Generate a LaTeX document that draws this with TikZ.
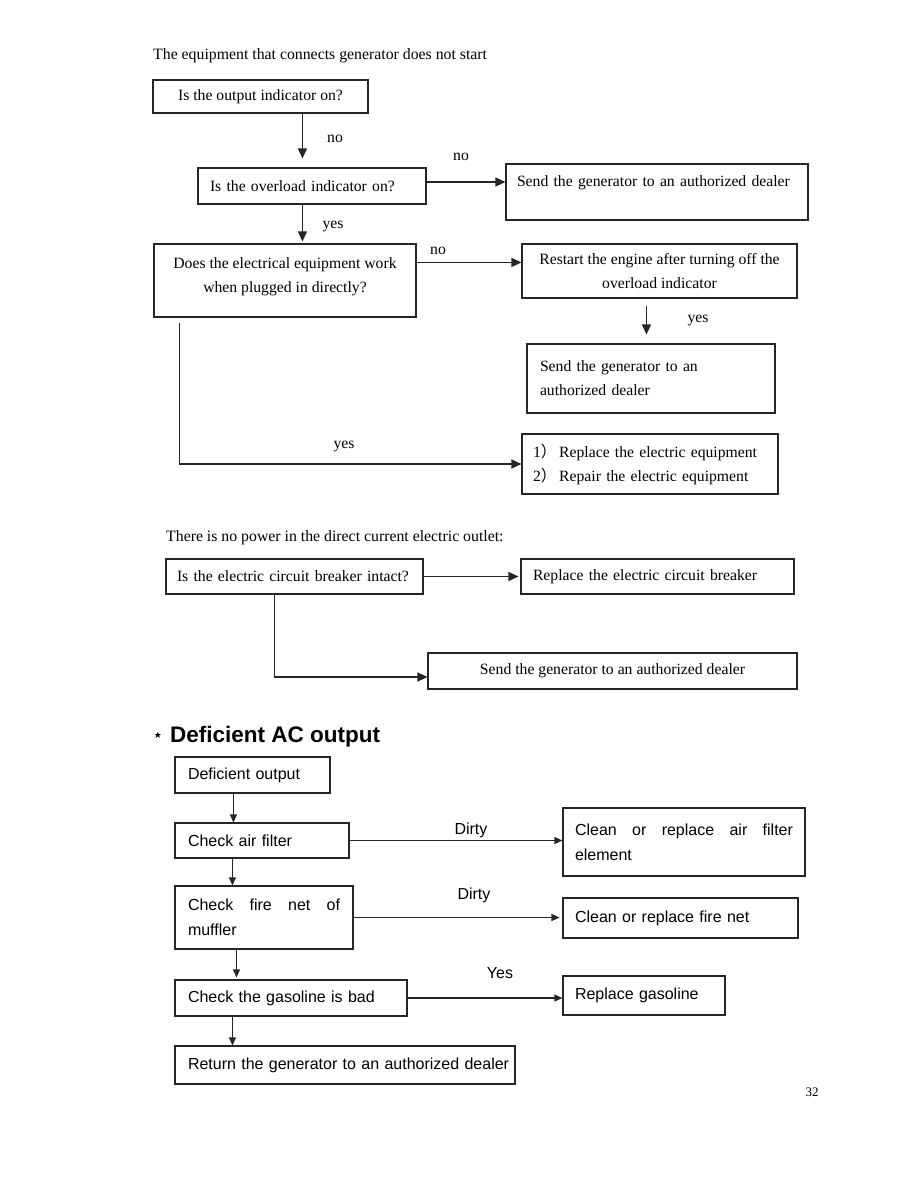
\documentclass[tikz,border=0pt]{standalone}
\usepackage{fontspec}
\setmainfont{Liberation Serif}
\setsansfont{Liberation Sans}
\newfontfamily\cjk{Noto Sans CJK SC}
\newfontfamily\djv{DejaVu Sans}
\usetikzlibrary{arrows.meta,calc}
\hyphenpenalty=10000
\exhyphenpenalty=10000
\begin{document}
\begin{tikzpicture}[x=1pt,y=-1pt,
  lc/.style={draw=black!85, line width=1.1pt},
  bx/.style={lc, inner ysep=0pt, font=\fontsize{15.7}{24}\selectfont},
  sbx/.style={lc, inner ysep=0pt, font=\sffamily\fontsize{16}{25}\selectfont},
  arr/.style={lc, -{Triangle[length=10pt,width=9pt]}},
  sarr/.style={lc, -{Triangle[length=8pt,width=7pt]}},
  lbl/.style={inner sep=0pt, font=\fontsize{15.7}{18}\selectfont},
  slbl/.style={inner sep=0pt, font=\sffamily\fontsize{16}{18}\selectfont},
  ttl/.style={inner sep=0pt, anchor=base west, font=\fontsize{15.8}{18}\selectfont}
]
\useasboundingbox[fill=white] (0,0) rectangle (918,1188);

% ---------- Section 1 ----------
\node[ttl] (t1) at (153,60) {The equipment that connects generator does not start};

\node[bx, minimum width=215pt, minimum height=33pt] (A) at (260.5,96.5) {Is the output indicator on?};
\node[bx, inner xsep=12pt, text width=204pt, minimum height=36pt, align=left] (B) at (312,186) {\mbox{Is the overload indicator on?}};
\node[bx, inner xsep=11pt, text width=280pt, text height=22pt, text depth=34pt, align=left] (C) at (657,192) {\mbox{Send the generator to an authorized dealer}};
\node[bx, minimum width=262pt, text height=48pt, text depth=25pt, align=center] (D) at (285,280.5) {Does the electrical equipment work\\when plugged in directly?};
\node[bx, minimum width=275pt, minimum height=54pt, align=center] (E) at (659.5,271) {Restart the engine after turning off the\\overload indicator};
\node[bx, inner xsep=13pt, text width=222pt, minimum height=69pt, align=left] (F) at (651,378.5) {Send the generator to an\\authorized dealer};
\node[bx, inner xsep=11pt, text width=234pt, minimum height=60pt, align=left] (G) at (650,464) {\mbox{1{\cjk ）}\,Replace the electric equipment}\\\mbox{2{\cjk ）}\,Repair the electric equipment}};

\coordinate (ab) at ($(A.south west)+(150,0)$);
\draw[arr, shorten >=9pt] (ab) -- (ab |- B.north);
\node[lbl] (l1) at (335,139) {no};

\coordinate (bc) at ($(B.east)+(0,-4)$);
\draw[arr] (bc) -- (bc -| C.west);
\node[lbl] (l2) at (461,157) {no};

\coordinate (bd) at ($(B.south west)+(105,0)$);
\draw[arr, shorten >=2pt] (bd) -- (bd |- D.north);
\node[lbl] (l3) at (333,226) {yes};

\coordinate (de) at ($(D.north east)+(0,19)$);
\draw[arr] (de) -- (de -| E.west);
\node[lbl] (l4) at (438,251) {no};

\coordinate (ef) at ($(E.south west)+(125,7)$);
\draw[arr, shorten >=9pt] (ef) -- (ef |- F.north);
\node[lbl] (l5) at (698,320) {yes};

\coordinate (dg) at ($(D.south west)+(26,5)$);
\draw[arr] (dg) |- (G.west);
\node[lbl] (l6) at (344,446) {yes};

% ---------- Section 2 ----------
\node[ttl] (t2) at (166,541) {There is no power in the direct current electric outlet:};
\node[bx, inner xsep=11pt, text width=235pt, minimum height=35pt, align=left] (H) at (294.5,576.5) {\mbox{Is the electric circuit breaker intact?}};
\node[bx, inner xsep=12pt, text width=249pt, minimum height=35pt, align=left] (I) at (657.5,576.5) {\mbox{Replace the electric circuit breaker}};
\node[bx, minimum width=369pt, minimum height=36pt] (J) at (612.5,671) {Send the generator to an authorized dealer};

\draw[arr, shorten >=2pt] (H.east) -- (H.east -| I.west);
\coordinate (hj) at ($(H.south west)+(109,0)$);
\coordinate (jw) at ($(J.west)+(0,6)$);
\draw[arr] (hj) |- (jw);

% ---------- Section 3 ----------
\node[inner sep=0pt, font=\djv\fontsize{9}{10}\selectfont] (star) at (158,735) {★};
\node[inner sep=0pt, anchor=base west, font=\sffamily\bfseries\fontsize{22.5}{26}\selectfont] (t3) at (170,742) {Deficient AC output};

\node[sbx, inner xsep=13pt, text width=129pt, minimum height=36pt, align=left] (K) at (252.5,775) {\mbox{Deficient output}};
\node[sbx, inner xsep=13pt, text width=148pt, minimum height=35pt, align=left] (L) at (262,840.5) {\mbox{Check air filter}};
\node[sbx, inner xsep=12pt, text width=218pt, minimum height=68pt, align=justify] (M) at (684,842) {Clean or replace air filter element};
\node[sbx, inner xsep=13pt, text width=152pt, minimum height=63pt, align=justify] (N) at (264,917.5) {Check fire net of muffler};
\node[sbx, inner xsep=12pt, text width=211pt, minimum height=40pt, align=left] (O) at (680.5,918) {\mbox{Clean or replace fire net}};
\node[sbx, inner xsep=13pt, text width=206pt, minimum height=36pt, align=left] (P) at (291,998) {\makebox[204pt][s]{Check the gasoline is bad}};
\node[sbx, inner xsep=12pt, text width=138pt, minimum height=39pt, align=left] (Q) at (644,995.5) {\mbox{Replace gasoline}};
\node[sbx, inner xsep=13pt, text width=314pt, minimum height=38pt, align=left] (R) at (345,1065) {\mbox{Return the generator to an authorized dealer}};

\coordinate (kl) at ($(K.south west)+(59,0)$);
\draw[sarr] (kl) -- (kl |- L.north);
\draw[sarr] (L.east) -- (L.east -| M.west);
\node[slbl] (d1) at (471,830) {Dirty};
\coordinate (ln) at ($(L.south west)+(58,0)$);
\draw[sarr] (ln) -- (ln |- N.north);
\draw[sarr, shorten >=3pt] (N.east) -- (N.east -| O.west);
\node[slbl] (d2) at (474,895) {Dirty};
\coordinate (np) at ($(N.south west)+(62,0)$);
\draw[sarr, shorten >=2pt] (np) -- (np |- P.north);
\draw[sarr] (P.east) -- (P.east -| Q.west);
\node[slbl] (d3) at (500,973) {Yes};
\coordinate (pr) at ($(P.south west)+(58,0)$);
\draw[sarr] (pr) -- (pr |- R.north);

\node[inner sep=0pt, font=\fontsize{13}{15}\selectfont] (pg) at (812,1092) {32};
\end{tikzpicture}
\end{document}
